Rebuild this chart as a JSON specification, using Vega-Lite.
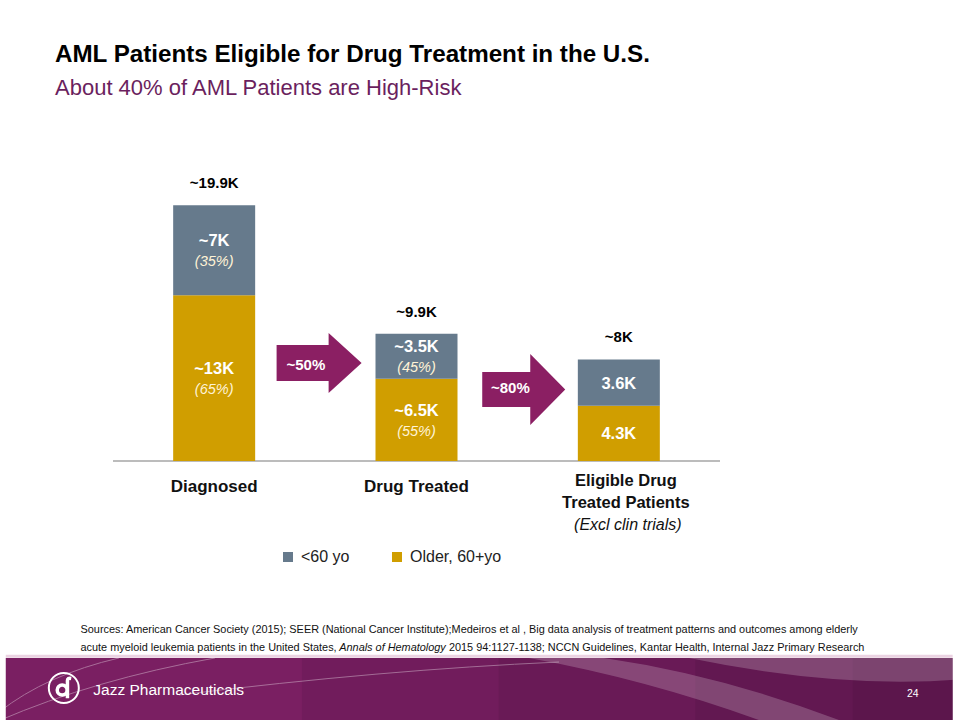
{
  "$schema": "https://vega.github.io/schema/vega-lite/v6.json",
  "width": 617,
  "height": 257,
  "autosize": "none",
  "padding": {"left": 108, "top": 204, "right": 235, "bottom": 259},
  "background": "white",
  "config": {"view": {"stroke": null}, "font": "Liberation Sans"},
  "title": {
    "text": "AML Patients Eligible for Drug Treatment in the U.S.",
    "subtitle": "About 40% of AML Patients are High-Risk",
    "anchor": "start",
    "frame": "group",
    "dx": -53,
    "offset": 77,
    "font": "Liberation Sans",
    "fontSize": 24.2,
    "fontWeight": "bold",
    "color": "#000000",
    "subtitleFont": "Liberation Sans",
    "subtitleFontSize": 22,
    "subtitleColor": "#6B1F5E",
    "subtitlePadding": 11
  },
  "datasets": {
    "segments": [
      {"idx": 0, "stage": "Diagnosed", "group": "Older, 60+yo", "value": 12.9, "label": "~13K", "pct": "(65%)"},
      {"idx": 0, "stage": "Diagnosed", "group": "<60 yo", "value": 7.0, "label": "~7K", "pct": "(35%)"},
      {"idx": 1, "stage": "Drug Treated", "group": "Older, 60+yo", "value": 6.4, "label": "~6.5K", "pct": "(55%)"},
      {"idx": 1, "stage": "Drug Treated", "group": "<60 yo", "value": 3.5, "label": "~3.5K", "pct": "(45%)"},
      {"idx": 2, "stage": "Eligible Drug Treated Patients", "group": "Older, 60+yo", "value": 4.3, "label": "4.3K", "pct": ""},
      {"idx": 2, "stage": "Eligible Drug Treated Patients", "group": "<60 yo", "value": 3.6, "label": "3.6K", "pct": ""}
    ],
    "stages": [
      {"idx": 0, "stage": "Diagnosed", "total": 19.9, "totalLabel": "~19.9K", "note": ""},
      {"idx": 1, "stage": "Drug Treated", "total": 9.9, "totalLabel": "~9.9K", "note": ""},
      {"idx": 2, "stage": "Eligible Drug\nTreated Patients", "total": 7.9, "totalLabel": "~8K", "note": "(Excl clin trials)"}
    ]
  },
  "layer": [
    {
      "data": {"values": [{"part": "footer"}]},
      "mark": {"type": "rect", "color": "#7A1F62", "opacity": 1},
      "encoding": {
        "x": {"datum": -1.03, "type": "quantitative", "scale": {"domain": [-0.5, 2.5], "nice": false, "zero": false}, "axis": null},
        "x2": {"datum": 3.65},
        "y": {"datum": -15.33, "type": "quantitative", "scale": {"domain": [0, 20], "nice": false}, "axis": null},
        "y2": {"datum": -20.4}
      }
    },
    {
      "data": {"values": [{"part": "footer shade 1"}]},
      "mark": {"type": "rect", "color": "#2A0A25", "opacity": 0.1},
      "encoding": {
        "x": {"datum": 0.4336, "type": "quantitative", "axis": null},
        "x2": {"datum": 3.65},
        "y": {"datum": -15.33, "type": "quantitative", "axis": null},
        "y2": {"datum": -20.4}
      }
    },
    {
      "data": {"values": [{"part": "footer shade 2"}]},
      "mark": {"type": "rect", "color": "#2A0A25", "opacity": 0.1},
      "encoding": {
        "x": {"datum": 1.406, "type": "quantitative", "axis": null},
        "x2": {"datum": 3.65},
        "y": {"datum": -15.33, "type": "quantitative", "axis": null},
        "y2": {"datum": -20.4}
      }
    },
    {
      "data": {"values": [{"part": "footer shade 3"}]},
      "mark": {"type": "rect", "color": "#2A0A25", "opacity": 0.1},
      "encoding": {
        "x": {"datum": 2.378, "type": "quantitative", "axis": null},
        "x2": {"datum": 3.65},
        "y": {"datum": -15.33, "type": "quantitative", "axis": null},
        "y2": {"datum": -20.4}
      }
    },
    {
      "data": {"values": [{"part": "footer shade 4"}]},
      "mark": {"type": "rect", "color": "#2A0A25", "opacity": 0.1},
      "encoding": {
        "x": {"datum": 3.156, "type": "quantitative", "axis": null},
        "x2": {"datum": 3.65},
        "y": {"datum": -15.33, "type": "quantitative", "axis": null},
        "y2": {"datum": -20.4}
      }
    },
    {
      "data": {"values": [{"part": "footer swoosh"}]},
      "mark": {"type": "point", "shape": "M0.104,-0.0646L0.2604,-0.0646Q0.5,-0.03 0.75,0.0646L0.583,0.0646Q0.35,-0.02 0.104,-0.0646ZM0.4375,-0.0646L1,-0.0646L1,-0.02Q0.75,0 0.4375,-0.0646Z", "size": 921600, "filled": true, "color": "#FFFFFF", "opacity": 0.2},
      "encoding": {
        "x": {"datum": 1.3088, "type": "quantitative", "axis": null},
        "y": {"datum": -17.743, "type": "quantitative", "axis": null}
      }
    },
    {
      "data": {"values": [{"part": "footer lines"}]},
      "mark": {"type": "point", "shape": "M-1,0.048Q-0.9,-0.03 -0.75,-0.0646M-1,0.066Q-0.8,-0.02 -0.55,-0.0646M-0.625,0.0125Q-0.2,-0.04 0.1667,-0.0562", "size": 921600, "filled": false, "stroke": "#FFFFFF", "strokeWidth": 1, "opacity": 0.35},
      "encoding": {
        "x": {"datum": 1.3088, "type": "quantitative", "axis": null},
        "y": {"datum": -17.743, "type": "quantitative", "axis": null}
      }
    },
    {
      "data": {"values": [{"part": "footer edge"}]},
      "mark": {"type": "rule", "color": "#EBD3E2", "strokeWidth": 3},
      "encoding": {
        "x": {"datum": -1.03, "type": "quantitative", "axis": null},
        "x2": {"datum": 3.65},
        "y": {"datum": -15.2, "type": "quantitative", "axis": null}
      }
    },
    {
      "data": {"values": [{"part": "baseline"}]},
      "mark": {"type": "rule", "color": "#A6A6A6", "strokeWidth": 1.5},
      "encoding": {
        "x": {"datum": -0.5, "type": "quantitative", "axis": null},
        "x2": {"datum": 2.5},
        "y": {"datum": 0, "type": "quantitative", "axis": null}
      }
    },
    {
      "data": {"name": "segments"},
      "mark": {"type": "bar", "size": 82},
      "encoding": {
        "x": {"field": "idx", "type": "quantitative", "scale": {"domain": [-0.5, 2.5], "nice": false, "zero": false}, "axis": null},
        "y": {"field": "value", "type": "quantitative", "stack": "zero", "scale": {"domain": [0, 20], "nice": false}, "axis": null},
        "color": {"field": "group", "type": "nominal",
                  "scale": {"domain": ["<60 yo", "Older, 60+yo"], "range": ["#667A8C", "#D09E00"]},
                  "legend": {"orient": "none", "legendX": 172, "legendY": 345, "direction": "horizontal", "title": null,
                             "symbolType": "square", "symbolSize": 100, "labelFontSize": 16, "labelFont": "Liberation Sans",
                             "labelColor": "#222222", "columnPadding": 39, "labelOffset": 5}},
        "order": {"field": "group", "type": "nominal", "sort": "descending"}
      }
    },
    {
      "data": {"name": "segments"},
      "transform": [
        {"stack": "value", "groupby": ["idx"], "sort": [{"field": "group", "order": "descending"}], "as": ["v0", "v1"]},
        {"calculate": "(datum.v0 + datum.v1) / 2", "as": "mid"},
        {"filter": "datum.pct != ''"}
      ],
      "mark": {"type": "text", "dy": -9, "fontSize": 16.5, "fontWeight": "bold", "color": "#FFFFFF", "font": "Liberation Sans"},
      "encoding": {
        "x": {"field": "idx", "type": "quantitative", "axis": null},
        "y": {"field": "mid", "type": "quantitative", "axis": null},
        "text": {"field": "label", "type": "nominal"}
      }
    },
    {
      "data": {"name": "segments"},
      "transform": [
        {"stack": "value", "groupby": ["idx"], "sort": [{"field": "group", "order": "descending"}], "as": ["v0", "v1"]},
        {"calculate": "(datum.v0 + datum.v1) / 2", "as": "mid"},
        {"filter": "datum.pct != ''"}
      ],
      "mark": {"type": "text", "dy": 12, "fontSize": 14.5, "fontStyle": "italic", "font": "Liberation Sans", "color": "#FFF3D6"},
      "encoding": {
        "x": {"field": "idx", "type": "quantitative", "axis": null},
        "y": {"field": "mid", "type": "quantitative", "axis": null},
        "text": {"field": "pct", "type": "nominal"}
      }
    },
    {
      "data": {"name": "segments"},
      "transform": [
        {"stack": "value", "groupby": ["idx"], "sort": [{"field": "group", "order": "descending"}], "as": ["v0", "v1"]},
        {"calculate": "(datum.v0 + datum.v1) / 2", "as": "mid"},
        {"filter": "datum.pct == ''"}
      ],
      "mark": {"type": "text", "dy": 1, "fontSize": 16.5, "fontWeight": "bold", "color": "#FFFFFF", "font": "Liberation Sans"},
      "encoding": {
        "x": {"field": "idx", "type": "quantitative", "axis": null},
        "y": {"field": "mid", "type": "quantitative", "axis": null},
        "text": {"field": "label", "type": "nominal"}
      }
    },
    {
      "data": {"name": "stages"},
      "mark": {"type": "text", "dy": -22, "fontSize": 15, "fontWeight": "bold", "color": "#000000", "font": "Liberation Sans"},
      "encoding": {
        "x": {"field": "idx", "type": "quantitative", "axis": null},
        "y": {"field": "total", "type": "quantitative", "axis": null},
        "text": {"field": "totalLabel", "type": "nominal"}
      }
    },
    {
      "data": {"name": "stages"},
      "transform": [{"filter": "datum.idx < 2"}],
      "mark": {"type": "text", "fontSize": 17, "fontWeight": "bold", "color": "#111111", "font": "Liberation Sans"},
      "encoding": {
        "x": {"field": "idx", "type": "quantitative", "axis": null},
        "y": {"datum": -2.02, "type": "quantitative", "axis": null},
        "text": {"field": "stage", "type": "nominal"}
      }
    },
    {
      "data": {"name": "stages"},
      "transform": [{"filter": "datum.idx == 2"}],
      "mark": {"type": "text", "fontSize": 16.5, "fontWeight": "bold", "color": "#111111", "font": "Liberation Sans", "lineBreak": "\n", "lineHeight": 22, "dx": 7},
      "encoding": {
        "x": {"field": "idx", "type": "quantitative", "axis": null},
        "y": {"datum": -1.556, "type": "quantitative", "axis": null},
        "text": {"field": "stage", "type": "nominal"}
      }
    },
    {
      "data": {"name": "stages"},
      "transform": [{"filter": "datum.idx == 2"}],
      "mark": {"type": "text", "fontSize": 16, "fontStyle": "italic", "color": "#111111", "font": "Liberation Sans", "dx": 9},
      "encoding": {
        "x": {"field": "idx", "type": "quantitative", "axis": null},
        "y": {"datum": -4.98, "type": "quantitative", "axis": null},
        "text": {"field": "note", "type": "nominal"}
      }
    },
    {
      "data": {"values": [{"rate": "~50%"}]},
      "mark": {"type": "point", "shape": "M-1,-0.4235L0.224,-0.4235L0.224,-0.706L1,0L0.224,0.706L0.224,0.4235L-1,0.4235Z", "size": 7225, "filled": true, "color": "#8B1F63", "opacity": 1},
      "encoding": {
        "x": {"datum": 0.5186, "type": "quantitative", "axis": null},
        "y": {"datum": 7.626, "type": "quantitative", "axis": null}
      }
    },
    {
      "data": {"values": [{"rate": "~80%"}]},
      "mark": {"type": "point", "shape": "M-1,-0.4217L0.157,-0.4217L0.157,-0.855L1,0L0.157,0.855L0.157,0.4217L-1,0.4217Z", "size": 6889, "filled": true, "color": "#8B1F63", "opacity": 1},
      "encoding": {
        "x": {"datum": 1.53, "type": "quantitative", "axis": null},
        "y": {"datum": 5.564, "type": "quantitative", "axis": null}
      }
    },
    {
      "data": {"values": [{"rate": "~50%"}]},
      "mark": {"type": "text", "fontSize": 15, "fontWeight": "bold", "color": "#FFFFFF", "font": "Liberation Sans"},
      "encoding": {
        "x": {"datum": 0.453, "type": "quantitative", "axis": null},
        "y": {"datum": 7.47, "type": "quantitative", "axis": null},
        "text": {"field": "rate", "type": "nominal"}
      }
    },
    {
      "data": {"values": [{"rate": "~80%"}]},
      "mark": {"type": "text", "fontSize": 15, "fontWeight": "bold", "color": "#FFFFFF", "font": "Liberation Sans"},
      "encoding": {
        "x": {"datum": 1.464, "type": "quantitative", "axis": null},
        "y": {"datum": 5.68, "type": "quantitative", "axis": null},
        "text": {"field": "rate", "type": "nominal"}
      }
    },
    {
      "data": {"values": [{"line": "Sources:   American Cancer Society (2015); SEER (National Cancer Institute);Medeiros et al , Big data analysis of treatment patterns and outcomes among elderly"}]},
      "mark": {"type": "text", "align": "left", "fontSize": 10.9, "color": "#111111", "font": "Liberation Sans"},
      "encoding": {
        "x": {"datum": -0.6605, "type": "quantitative", "axis": null},
        "y": {"datum": -13.15, "type": "quantitative", "axis": null},
        "text": {"field": "line", "type": "nominal"}
      }
    },
    {
      "data": {"values": [{"line": "acute myeloid leukemia patients in the United States,"}]},
      "mark": {"type": "text", "align": "left", "fontSize": 10.9, "color": "#111111", "font": "Liberation Sans"},
      "encoding": {
        "x": {"datum": -0.6605, "type": "quantitative", "axis": null},
        "y": {"datum": -14.55, "type": "quantitative", "axis": null},
        "text": {"field": "line", "type": "nominal"}
      }
    },
    {
      "data": {"values": [{"line": "Annals of Hematology"}]},
      "mark": {"type": "text", "align": "left", "fontSize": 10.9, "fontStyle": "italic", "color": "#111111", "font": "Liberation Sans"},
      "encoding": {
        "x": {"datum": 0.6183, "type": "quantitative", "axis": null},
        "y": {"datum": -14.55, "type": "quantitative", "axis": null},
        "text": {"field": "line", "type": "nominal"}
      }
    },
    {
      "data": {"values": [{"line": "2015 94:1127-1138; NCCN Guidelines, Kantar Health, Internal Jazz Primary Research"}]},
      "mark": {"type": "text", "align": "left", "fontSize": 10.9, "color": "#111111", "font": "Liberation Sans"},
      "encoding": {
        "x": {"datum": 1.1604, "type": "quantitative", "axis": null},
        "y": {"datum": -14.55, "type": "quantitative", "axis": null},
        "text": {"field": "line", "type": "nominal"}
      }
    },
    {
      "data": {"values": [{"logo": "ring"}]},
      "mark": {"type": "point", "shape": "circle", "size": 900, "filled": false, "stroke": "#FFFFFF", "strokeWidth": 2, "opacity": 1},
      "encoding": {
        "x": {"datum": -0.7431, "type": "quantitative", "axis": null},
        "y": {"datum": -17.665, "type": "quantitative", "axis": null}
      }
    },
    {
      "data": {"values": [{"logo": "glyph"}]},
      "mark": {"type": "point", "shape": "M0.22,0.62L0.22,-0.45Q0.22,-0.62 0.45,-0.58M0.2,0.12A0.3,0.3 0 1 1 -0.4,0.12A0.3,0.3 0 1 1 0.2,0.12", "size": 1089, "filled": false, "stroke": "#FFFFFF", "strokeWidth": 3.5, "opacity": 1},
      "encoding": {
        "x": {"datum": -0.7431, "type": "quantitative", "axis": null},
        "y": {"datum": -17.665, "type": "quantitative", "axis": null}
      }
    },
    {
      "data": {"values": [{"name": "Jazz Pharmaceuticals"}]},
      "mark": {"type": "text", "align": "left", "fontSize": 15.5, "color": "#FFFFFF", "font": "Liberation Sans"},
      "encoding": {
        "x": {"datum": -0.5972, "type": "quantitative", "axis": null},
        "y": {"datum": -17.82, "type": "quantitative", "axis": null},
        "text": {"field": "name", "type": "nominal"}
      }
    },
    {
      "data": {"values": [{"page": "24"}]},
      "mark": {"type": "text", "fontSize": 10.5, "color": "#FFFFFF", "font": "Liberation Sans"},
      "encoding": {
        "x": {"datum": 3.453, "type": "quantitative", "axis": null},
        "y": {"datum": -18.13, "type": "quantitative", "axis": null},
        "text": {"field": "page", "type": "nominal"}
      }
    }
  ]
}
